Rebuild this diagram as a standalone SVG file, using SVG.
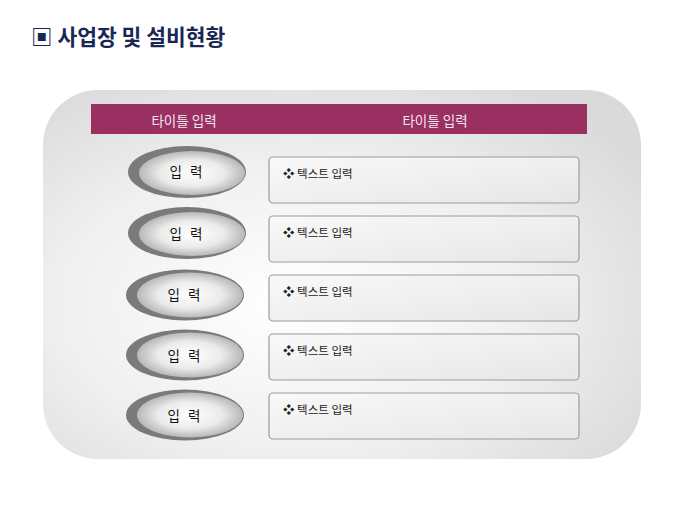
<svg xmlns="http://www.w3.org/2000/svg" width="680" height="510" viewBox="0 0 680 510">
<defs>
<radialGradient id="bg" cx="0.42" cy="0.58" r="0.7">
<stop offset="0" stop-color="#ffffff"/>
<stop offset="0.55" stop-color="#f0f0f0"/>
<stop offset="1" stop-color="#dadada"/>
</radialGradient>
<radialGradient id="inner" cx="0.5" cy="0.5" r="0.5">
<stop offset="0" stop-color="#ffffff"/>
<stop offset="0.6" stop-color="#ebebeb"/>
<stop offset="1" stop-color="#b8b8b8"/>
</radialGradient>
<linearGradient id="box" x1="0" y1="0" x2="1" y2="1">
<stop offset="0" stop-color="#f9f9f9"/>
<stop offset="1" stop-color="#e6e6e6"/>
</linearGradient>
</defs>
<style>
.title{font-family:"Noto Sans CJK KR","Noto Sans",sans-serif;font-weight:bold;font-size:21.5px;fill:#1a2755}
.hdr{font-family:"Noto Sans CJK KR",sans-serif;font-size:13.5px;fill:#f3e6ee;text-anchor:middle}
.oval-o{fill:#7a7a7a}
.oval-i{fill:url(#inner)}
.olbl{font-family:"Noto Sans CJK KR",sans-serif;font-size:13.5px;fill:#111;text-anchor:middle;word-spacing:5px}
.tbox{fill:url(#box);stroke:#9c9c9c;stroke-width:1.2}
.ttxt{font-family:"Noto Sans CJK KR",sans-serif;font-size:11.5px;fill:#222}
</style>
<text class="title" x="31" y="45">▣ 사업장 및 설비현황</text>
<g id="container">
<rect x="43" y="90" width="598" height="369" rx="55" ry="55" fill="url(#bg)"/>
</g>
<g id="header">
<rect x="91" y="104" width="496" height="30" fill="#9a3062"/>
<text class="hdr" x="184" y="126">타이틀 입력</text>
<text class="hdr" x="435" y="126">타이틀 입력</text>
</g>
<g id="row1">
<ellipse class="oval-o" cx="187" cy="172" rx="59" ry="26"/>
<ellipse class="oval-i" cx="192" cy="173" rx="53" ry="22"/>
<text class="olbl" x="186" y="177">입 력</text>
<rect class="tbox" x="269" y="157" width="310" height="46" rx="4"/>
<text class="ttxt" x="283" y="178">❖ 텍스트 입력</text>
</g>
<g id="row2">
<ellipse class="oval-o" cx="187" cy="233" rx="59" ry="26"/>
<ellipse class="oval-i" cx="192" cy="234" rx="53" ry="22"/>
<text class="olbl" x="186" y="239">입 력</text>
<rect class="tbox" x="269" y="216" width="310" height="46" rx="4"/>
<text class="ttxt" x="283" y="237">❖ 텍스트 입력</text>
</g>
<g id="row3">
<ellipse class="oval-o" cx="185" cy="295" rx="59" ry="25.5"/>
<ellipse class="oval-i" cx="190" cy="295" rx="53" ry="22.5"/>
<text class="olbl" x="184" y="300">입 력</text>
<rect class="tbox" x="269" y="275" width="310" height="46" rx="4"/>
<text class="ttxt" x="283" y="296">❖ 텍스트 입력</text>
</g>
<g id="row4">
<ellipse class="oval-o" cx="185" cy="355" rx="59" ry="25.5"/>
<ellipse class="oval-i" cx="190" cy="355" rx="53" ry="22.5"/>
<text class="olbl" x="184" y="361">입 력</text>
<rect class="tbox" x="269" y="334" width="310" height="46" rx="4"/>
<text class="ttxt" x="283" y="355">❖ 텍스트 입력</text>
</g>
<g id="row5">
<ellipse class="oval-o" cx="185" cy="415" rx="59" ry="25.5"/>
<ellipse class="oval-i" cx="190" cy="415" rx="53" ry="22.5"/>
<text class="olbl" x="184" y="421">입 력</text>
<rect class="tbox" x="269" y="393" width="310" height="46" rx="4"/>
<text class="ttxt" x="283" y="414">❖ 텍스트 입력</text>
</g>
<g id="connectors"/>
</svg>
